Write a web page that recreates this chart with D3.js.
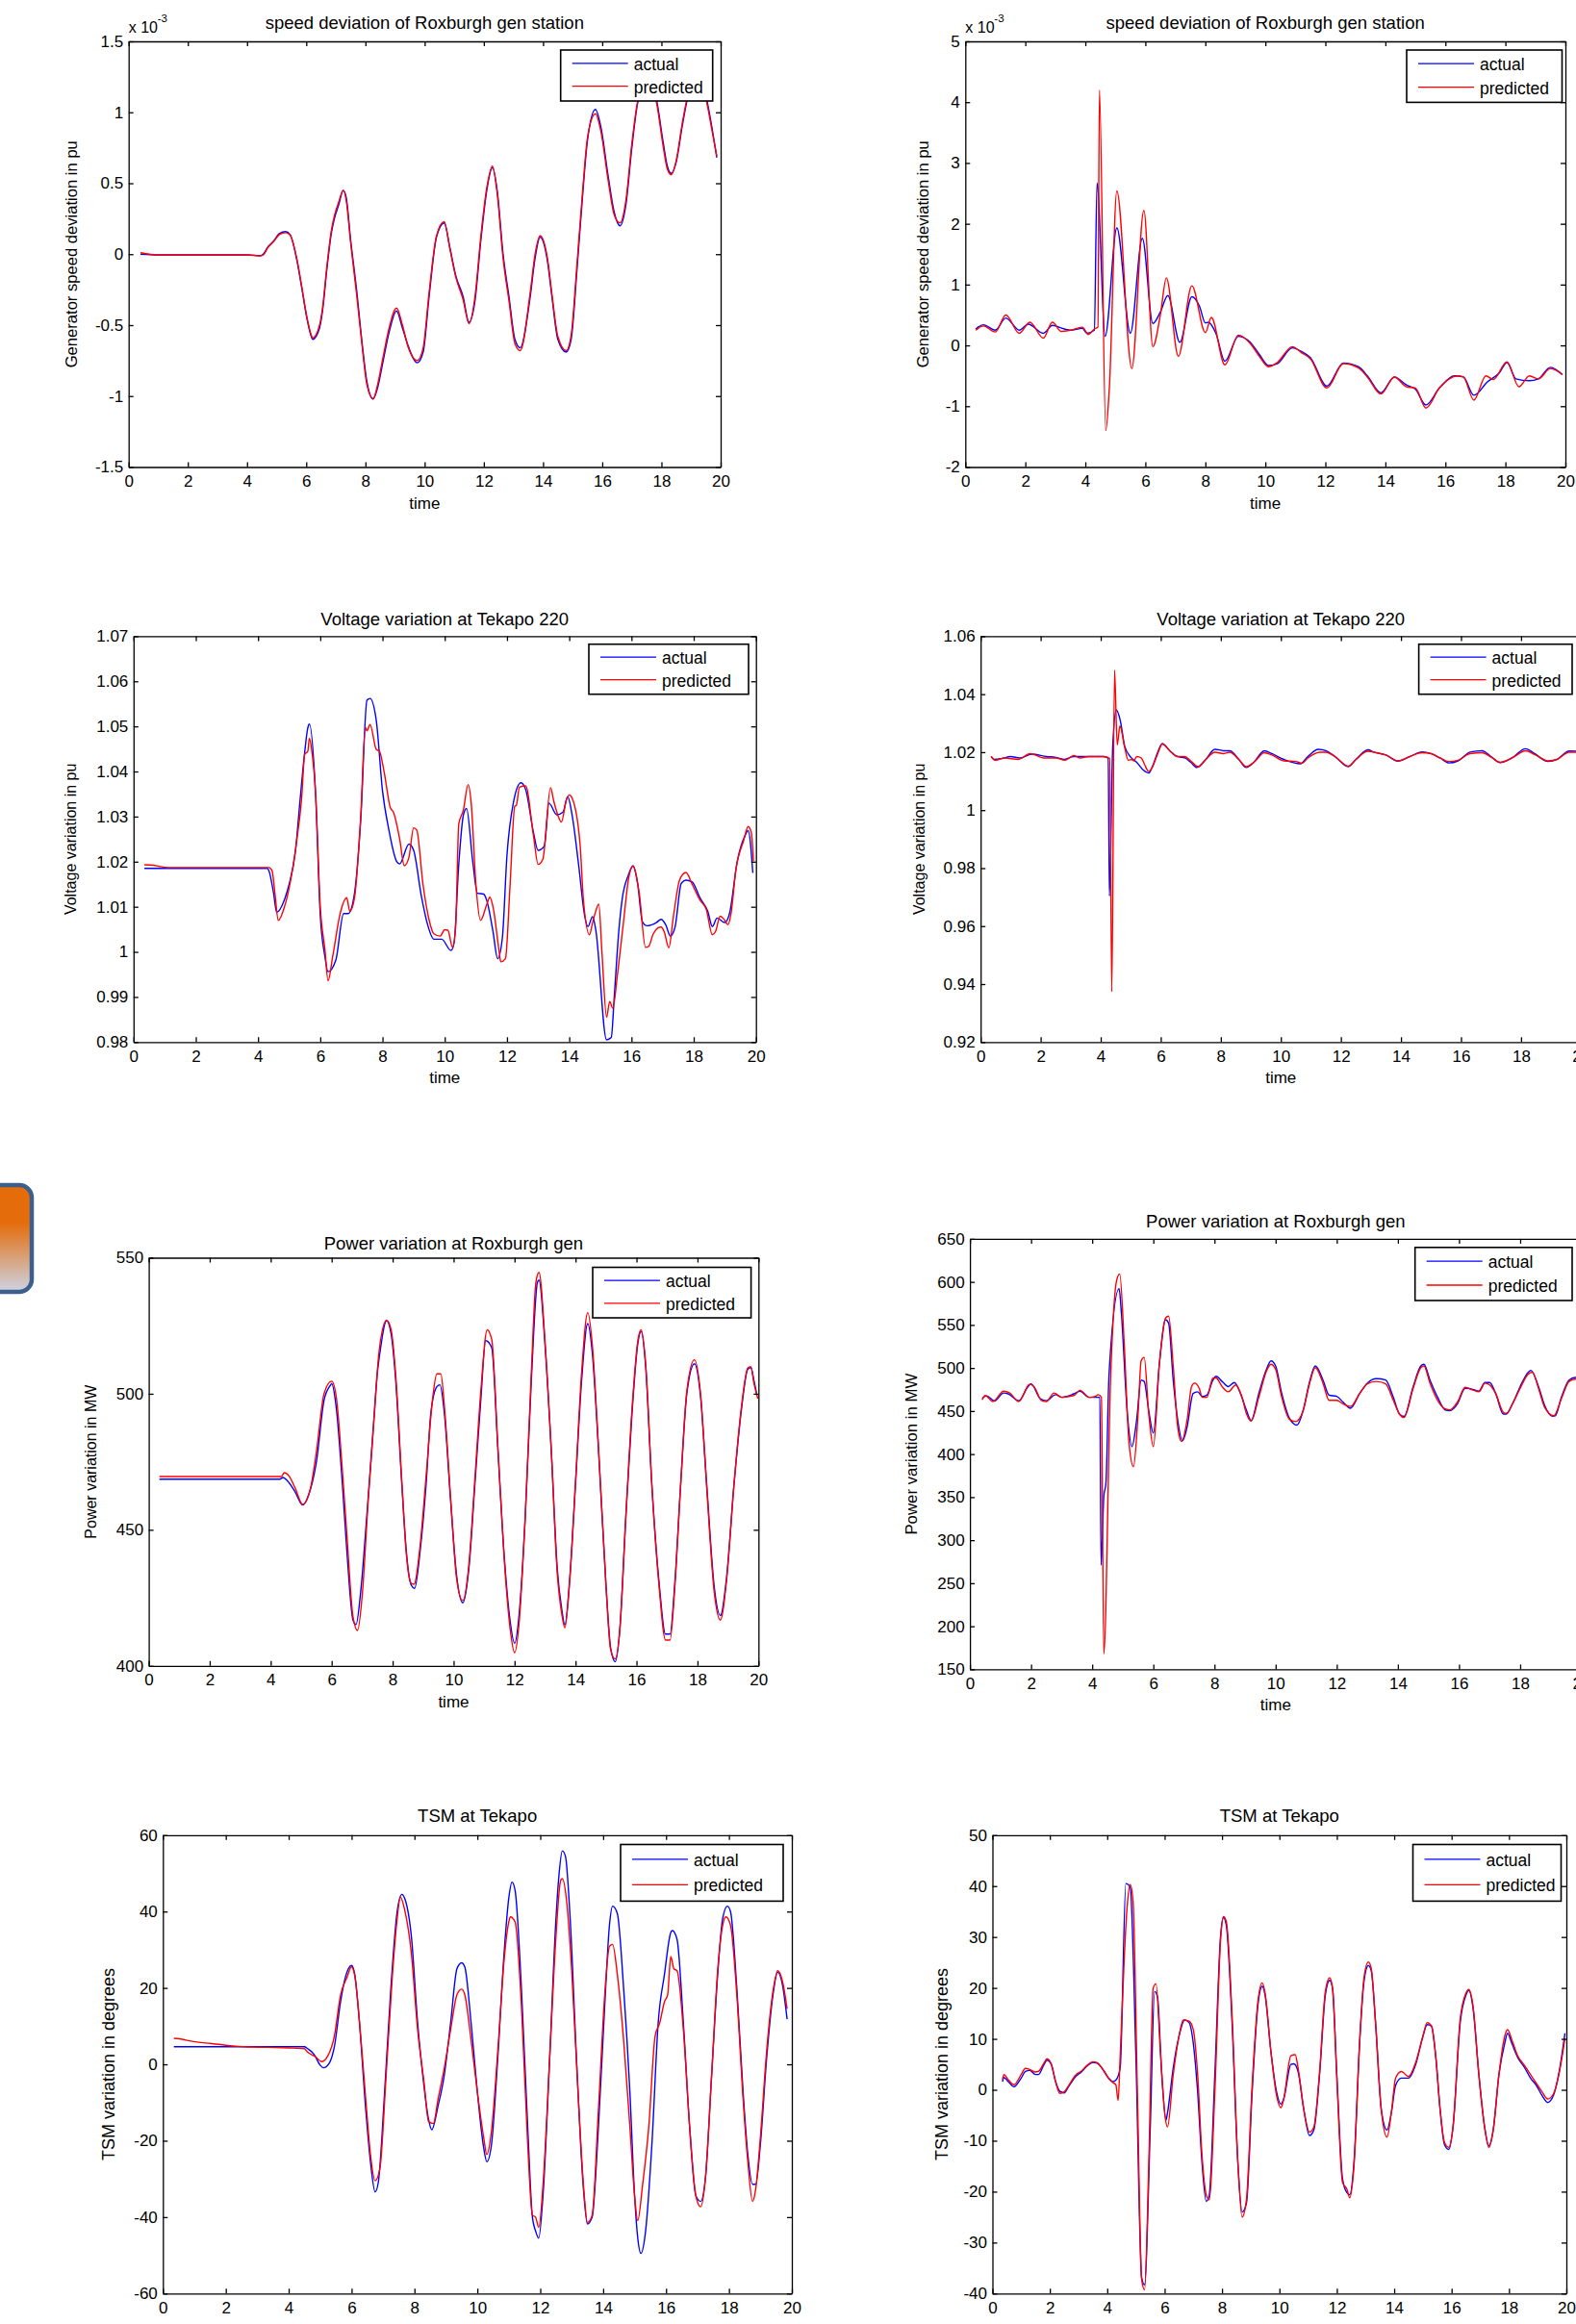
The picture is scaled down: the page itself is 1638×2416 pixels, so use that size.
<!DOCTYPE html>
<html>
<head>
<meta charset="utf-8">
<script src="https://cdn.jsdelivr.net/npm/d3@7"></script>
<style>
body{margin:0;background:#fff;}
svg{display:block;}
</style>
</head>
<body>
<div id="canvas"></div>
<script>
// tick values
var xTicks = [0,2,4,6,8,10,12,14,16,18,20];
var speedATicks = [-1.5,-1,-0.5,0,0.5,1,1.5];
var speedBTicks = [-2,-1,0,1,2,3,4,5];
var voltATicks = [0.98,0.99,1,1.01,1.02,1.03,1.04,1.05,1.06,1.07];
var voltBTicks = [0.92,0.94,0.96,0.98,1,1.02,1.04,1.06];
var powerATicks = [400,450,500,550];
var powerBTicks = [150,200,250,300,350,400,450,500,550,600,650];
var tsmATicks = [-60,-40,-20,0,20,40,60];
var tsmBTicks = [-40,-30,-20,-10,0,10,20,30,40,50];

var titles = ['speed deviation of Roxburgh gen station','speed deviation of Roxburgh gen station',
  'Voltage variation at Tekapo 220','Voltage variation at Tekapo 220',
  'Power variation at Roxburgh gen','Power variation at Roxburgh gen',
  'TSM at Tekapo','TSM at Tekapo'];
var ylabels = ['Generator speed deviation in pu','Generator speed deviation in pu',
  'Voltage variation in pu','Voltage variation in pu',
  'Power variation in MW','Power variation in MW',
  'TSM variation in degrees','TSM variation in degrees'];
var seriesNames = ['actual','predicted'];

// speed deviation (x 1e-3), case A
var speedA_time = [0.4,1,2,3,4,4.45,4.55,4.7,4.9,5.1,5.3,5.45,5.69,5.85,6.02,6.14,6.22,6.45,6.55,6.7,6.85,6.95,7.1,7.25,7.35,7.5,7.7,7.9,8.05,8.26,8.4,8.6,8.8,9.05,9.25,9.45,9.75,9.95,10.15,10.4,10.66,10.85,11.05,11.3,11.5,11.7,11.9,12.1,12.29,12.45,12.65,12.85,13.05,13.23,13.56,13.73,13.9,14.15,14.3,14.5,14.78,14.95,15.15,15.35,15.5,15.77,15.95,16.2,16.4,16.6,16.8,17.0,17.2,17.55,17.85,18.05,18.2,18.33,18.5,18.7,18.9,19.2,19.55,19.7,19.87];
var speedA_actual = [0,-0.005,-0.005,-0.005,-0.005,-0.01,0,0.05,0.093,0.147,0.159,0.14,-0.05,-0.24,-0.45,-0.56,-0.6,-0.52,-0.4,-0.1,0.15,0.25,0.35,0.45,0.4,0.1,-0.25,-0.65,-0.9,-1.02,-0.95,-0.75,-0.55,-0.4,-0.52,-0.65,-0.765,-0.69,-0.3,0.12,0.22,0.05,-0.15,-0.3,-0.48,-0.33,0.1,0.45,0.61,0.45,0,-0.3,-0.6,-0.66,-0.31,-0.03,0.12,-0.05,-0.3,-0.6,-0.69,-0.6,-0.1,0.45,0.8,1.02,0.9,0.55,0.3,0.2,0.35,0.75,1.07,1.25,1.07,0.8,0.62,0.57,0.65,0.9,1.12,1.3,1.07,0.9,0.68];
var speedA_pred = [0.01,-0.005,-0.005,-0.005,-0.005,-0.012,-0.005,0.045,0.09,0.14,0.152,0.135,-0.04,-0.23,-0.44,-0.55,-0.59,-0.5,-0.38,-0.08,0.17,0.27,0.37,0.45,0.38,0.08,-0.28,-0.67,-0.92,-1.02,-0.93,-0.72,-0.52,-0.38,-0.5,-0.66,-0.75,-0.66,-0.27,0.13,0.23,0.04,-0.16,-0.32,-0.49,-0.3,0.13,0.47,0.62,0.43,-0.03,-0.33,-0.63,-0.68,-0.28,0,0.13,-0.03,-0.28,-0.58,-0.68,-0.57,-0.06,0.48,0.82,0.99,0.87,0.52,0.28,0.22,0.38,0.78,1.08,1.24,1.05,0.77,0.6,0.56,0.66,0.92,1.13,1.29,1.05,0.88,0.69];

// speed deviation (x 1e-3), case B
var speedB_timeActual = [0.35,0.6,1.0,1.35,1.8,2.1,2.6,2.9,3.3,3.5,3.9,4.05,4.3,4.39,4.66,5.05,5.5,5.9,6.25,6.5,6.75,7.15,7.55,7.8,8.0,8.1,8.35,8.65,9.1,9.5,9.8,10.1,10.4,10.9,11.2,11.5,12.05,12.6,13.1,13.4,13.85,14.3,14.7,15.0,15.35,15.8,16.3,16.6,16.95,17.4,17.8,18.05,18.35,18.8,19.1,19.5,19.9];
var speedB_actual = [0.27,0.34,0.25,0.45,0.25,0.35,0.2,0.33,0.27,0.25,0.28,0.2,0.25,2.67,0.15,1.93,0.2,1.76,0.36,0.55,0.82,0.05,0.8,0.65,0.37,0.38,0.2,-0.26,0.15,0.05,-0.15,-0.33,-0.3,-0.04,-0.1,-0.2,-0.67,-0.29,-0.35,-0.5,-0.78,-0.52,-0.65,-0.72,-0.98,-0.7,-0.5,-0.52,-0.82,-0.6,-0.45,-0.28,-0.55,-0.58,-0.55,-0.36,-0.48];
var speedB_timePred = [0.35,0.6,1.0,1.35,1.8,2.15,2.6,2.9,3.2,3.5,3.9,4.1,4.3,4.42,4.47,4.68,4.8,5.05,5.55,5.95,6.25,6.5,6.7,7.1,7.55,8.0,8.2,8.65,9.1,9.5,9.8,10.1,10.4,10.9,11.2,11.5,12.05,12.6,13.1,13.4,13.85,14.3,14.7,15.0,15.35,15.8,16.4,16.6,16.95,17.35,17.6,18.05,18.45,18.8,19.1,19.5,19.9];
var speedB_pred = [0.25,0.32,0.22,0.5,0.2,0.38,0.12,0.38,0.23,0.25,0.3,0.18,0.27,0.3,4.2,-1.4,-0.7,2.54,-0.38,2.22,-0.02,0.5,1.11,-0.18,0.98,0.21,0.46,-0.32,0.17,0.03,-0.18,-0.35,-0.28,-0.02,-0.12,-0.22,-0.7,-0.3,-0.37,-0.52,-0.8,-0.52,-0.68,-0.7,-1.03,-0.7,-0.5,-0.52,-0.9,-0.5,-0.56,-0.27,-0.68,-0.5,-0.55,-0.38,-0.48];

// voltage at Tekapo 220 (pu), case A  [time, value]
var voltA_actual = [[0.35,1.0185],[4.3,1.0185],[4.35,1.018],[4.5,1.013],[4.6,1.0088],[4.85,1.0116],[5.0,1.015],[5.2,1.0222],[5.35,1.0336],[5.5,1.0443],[5.6,1.0497],[5.65,1.0505],[5.85,1.035],[6.0,1.0081],[6.15,0.9989],[6.25,0.9956],[6.5,0.9982],[6.75,1.0085],[6.9,1.0085],[7.1,1.013],[7.3,1.0293],[7.5,1.0558],[7.6,1.0562],[7.8,1.0513],[8.0,1.0357],[8.2,1.0272],[8.45,1.0201],[8.55,1.0195],[8.85,1.0239],[9.0,1.0225],[9.25,1.0123],[9.45,1.006],[9.65,1.0028],[9.9,1.0028],[10.2,1.0003],[10.3,1.002],[10.45,1.0194],[10.6,1.0304],[10.7,1.0318],[10.9,1.02],[11.05,1.013],[11.25,1.0128],[11.35,1.0114],[11.55,1.0045],[11.7,0.9985],[11.85,1.003],[12.0,1.0215],[12.2,1.0329],[12.45,1.0375],[12.6,1.036],[12.85,1.0265],[13.0,1.0225],[13.2,1.0235],[13.35,1.033],[13.6,1.0304],[13.8,1.031],[13.95,1.0344],[14.1,1.03],[14.3,1.0194],[14.5,1.0078],[14.6,1.0056],[14.75,1.0078],[14.85,1.005],[15.2,0.9805],[15.35,0.981],[15.45,0.9904],[15.6,1.0052],[15.7,1.0116],[15.9,1.017],[16.05,1.0191],[16.2,1.015],[16.35,1.0067],[16.5,1.0058],[16.8,1.0065],[16.95,1.0072],[17.1,1.006],[17.25,1.0035],[17.4,1.0055],[17.6,1.0152],[17.75,1.0159],[17.95,1.0155],[18.2,1.012],[18.45,1.009],[18.6,1.0056],[18.75,1.0075],[19.0,1.0065],[19.15,1.0085],[19.4,1.0201],[19.65,1.0258],[19.75,1.0269],[19.9,1.0175]];
var voltA_pred = [[0.35,1.0193],[0.65,1.0192],[0.8,1.019],[1.1,1.0187],[4.35,1.0187],[4.45,1.018],[4.55,1.0125],[4.65,1.007],[4.85,1.01],[5.05,1.016],[5.25,1.025],[5.4,1.034],[5.5,1.0438],[5.6,1.0445],[5.65,1.0474],[5.72,1.045],[5.85,1.035],[6.0,1.01],[6.15,1.0005],[6.25,0.9936],[6.4,0.999],[6.65,1.0088],[6.85,1.012],[6.95,1.009],[7.1,1.012],[7.3,1.03],[7.45,1.0498],[7.5,1.049],[7.6,1.0504],[7.8,1.0449],[7.9,1.0445],[8.05,1.04],[8.25,1.032],[8.35,1.031],[8.55,1.0251],[8.7,1.0191],[8.85,1.021],[9.0,1.0275],[9.1,1.027],[9.3,1.015],[9.5,1.007],[9.65,1.004],[9.85,1.0035],[10.0,1.0049],[10.1,1.0048],[10.25,1.001],[10.35,1.0055],[10.45,1.0283],[10.6,1.0315],[10.75,1.0371],[10.85,1.033],[11.0,1.015],[11.15,1.007],[11.35,1.0105],[11.45,1.0121],[11.55,1.01],[11.75,1.0],[11.8,0.9978],[11.95,0.9985],[12.1,1.015],[12.25,1.0323],[12.3,1.0325],[12.4,1.0365],[12.6,1.0368],[12.85,1.0258],[13.0,1.0194],[13.15,1.0205],[13.4,1.0364],[13.5,1.0335],[13.65,1.03],[13.75,1.0288],[13.9,1.0335],[14.0,1.0348],[14.1,1.034],[14.35,1.0237],[14.45,1.012],[14.65,1.0038],[14.75,1.0065],[14.85,1.009],[14.95,1.0106],[15.05,1.0],[15.2,0.9855],[15.3,0.989],[15.4,0.9875],[15.55,0.995],[15.75,1.007],[15.9,1.016],[16.05,1.019],[16.25,1.013],[16.45,1.001],[16.55,1.0012],[16.7,1.004],[16.85,1.0053],[16.95,1.0055],[17.05,1.0045],[17.2,1.0009],[17.35,1.008],[17.55,1.016],[17.75,1.0176],[17.95,1.015],[18.2,1.0115],[18.4,1.0095],[18.6,1.0038],[18.7,1.0045],[18.85,1.0079],[19.0,1.007],[19.1,1.006],[19.2,1.0085],[19.35,1.018],[19.6,1.0246],[19.75,1.0278],[19.85,1.0265],[19.92,1.0201]];

// voltage at Tekapo 220 (pu), case B
var voltB_actual = [[0.35,1.0185],[0.45,1.0175],[0.7,1.0178],[1.0,1.0185],[1.3,1.018],[1.7,1.0193],[2.2,1.0185],[2.5,1.0182],[2.8,1.0175],[3.1,1.0185],[4.1,1.0185],[4.25,1.0179],[4.29,0.9704],[4.4,1.022],[4.52,1.0346],[4.65,1.031],[4.8,1.022],[5.0,1.0183],[5.2,1.0165],[5.4,1.014],[5.6,1.0128],[5.7,1.0145],[5.9,1.02],[6.05,1.023],[6.3,1.0205],[6.55,1.0185],[6.8,1.018],[7.0,1.0165],[7.2,1.0147],[7.5,1.0175],[7.8,1.021],[8.1,1.0205],[8.3,1.0205],[8.6,1.0175],[8.85,1.0147],[9.1,1.0165],[9.45,1.0205],[9.7,1.0195],[10.1,1.0175],[10.65,1.016],[10.9,1.0185],[11.25,1.021],[11.5,1.0205],[11.8,1.0185],[12.25,1.015],[12.5,1.0175],[12.9,1.0208],[13.1,1.02],[13.5,1.019],[13.9,1.0169],[14.3,1.0185],[14.7,1.0201],[15.0,1.0195],[15.3,1.018],[15.6,1.0163],[15.9,1.017],[16.3,1.02],[16.7,1.0205],[17.0,1.0185],[17.3,1.0164],[17.7,1.018],[18.15,1.0212],[18.45,1.0195],[18.9,1.0168],[19.2,1.0175],[19.6,1.0204],[20,1.0203]];
var voltB_pred = [[0.35,1.0185],[0.5,1.0172],[0.8,1.018],[1.25,1.0175],[1.65,1.0195],[2.1,1.018],[2.5,1.018],[2.8,1.0172],[3.1,1.0188],[3.3,1.018],[3.6,1.0185],[4.1,1.0185],[4.3,1.0178],[4.37,0.9374],[4.46,1.0483],[4.55,1.0225],[4.64,1.029],[4.8,1.0215],[4.92,1.0172],[5.05,1.0175],[5.1,1.017],[5.2,1.0185],[5.35,1.018],[5.45,1.016],[5.6,1.0133],[5.7,1.0145],[5.9,1.0195],[6.05,1.0228],[6.3,1.0205],[6.55,1.0185],[6.8,1.0185],[7.0,1.017],[7.25,1.015],[7.5,1.0175],[7.8,1.02],[8.1,1.0195],[8.3,1.02],[8.6,1.0175],[8.85,1.015],[9.1,1.0165],[9.45,1.0198],[9.7,1.019],[10.1,1.017],[10.5,1.0168],[10.7,1.0162],[10.9,1.018],[11.3,1.02],[11.5,1.02],[11.8,1.0185],[12.25,1.0152],[12.5,1.0175],[12.9,1.0203],[13.1,1.02],[13.5,1.019],[13.9,1.017],[14.3,1.0185],[14.7,1.0198],[15.0,1.0195],[15.3,1.018],[15.6,1.0168],[15.9,1.0172],[16.3,1.0195],[16.7,1.0198],[17.0,1.0183],[17.3,1.0165],[17.7,1.018],[18.15,1.0205],[18.45,1.0192],[18.9,1.017],[19.2,1.0175],[19.6,1.02],[20,1.02]];

// power at Roxburgh gen (MW), case A
var powerA_actual = [[0.35,468.6],[4.3,468.6],[4.4,469.2],[4.6,467.3],[4.8,464],[5.05,459.1],[5.25,463],[5.5,475],[5.75,497.6],[5.95,503],[6.0,503.7],[6.15,495],[6.35,467],[6.5,442],[6.7,416.8],[6.8,415.2],[6.95,427],[7.15,454.7],[7.35,485],[7.5,507.7],[7.6,516.5],[7.8,526.8],[7.95,522],[8.1,505],[8.3,467],[8.45,442],[8.6,430],[8.72,428.5],[8.9,442],[9.1,467],[9.25,492.5],[9.45,502.6],[9.55,503.3],[9.7,492.5],[9.9,461],[10.1,433],[10.3,423.2],[10.5,435.7],[10.7,467],[10.9,499],[11.05,519.5],[11.25,517],[11.45,480],[11.65,442],[11.85,416.8],[12.0,408.3],[12.15,419],[12.35,454.7],[12.55,505],[12.75,541],[12.8,541.8],[13.0,517.8],[13.2,480],[13.4,435.7],[13.55,420.6],[13.65,415],[13.8,430.7],[14.0,467],[14.2,505],[14.4,525.8],[14.55,515],[14.75,480],[15.0,429.4],[15.15,406.7],[15.3,401.5],[15.45,413],[15.65,454.7],[15.85,492.5],[16.05,519],[16.15,522.9],[16.3,510],[16.5,467],[16.75,429.4],[16.95,411.7],[17.1,411.7],[17.25,429.4],[17.45,467],[17.65,500],[17.9,511],[18.1,499],[18.3,467],[18.55,429],[18.75,418.5],[18.95,432],[19.2,467],[19.45,495],[19.65,509],[19.75,509.6],[19.85,505],[19.95,499.5]];
var powerA_pred = [[0.35,469.6],[4.35,469.6],[4.45,471],[4.6,469.8],[4.8,465.4],[5.05,459.3],[5.3,465],[5.5,478.7],[5.75,500],[6.0,504.6],[6.15,498.9],[6.35,472],[6.5,448],[6.7,418],[6.85,413],[7.0,425.6],[7.2,461],[7.4,492.5],[7.55,515],[7.8,527],[7.95,523.5],[8.1,507],[8.3,468],[8.45,441],[8.6,430.5],[8.7,430],[8.9,444],[9.1,470],[9.3,497],[9.45,507.3],[9.58,507.3],[9.7,495],[9.9,462],[10.1,432],[10.3,424],[10.5,437],[10.7,469],[10.9,502],[11.1,523.5],[11.25,520],[11.45,481],[11.65,441],[11.85,414],[12.0,404.8],[12.15,416],[12.35,455],[12.55,508],[12.7,541],[12.8,544.6],[13.0,519],[13.2,480],[13.4,434],[13.55,419],[13.65,414],[13.8,430],[14.0,468],[14.2,508],[14.4,529.8],[14.55,518],[14.75,481],[15.0,429],[15.15,406],[15.3,402.5],[15.45,413],[15.65,455],[15.85,494],[16.05,520],[16.15,523.5],[16.3,511],[16.5,467],[16.75,428],[16.95,409.5],[17.1,409.5],[17.25,428],[17.45,467],[17.65,501],[17.9,512.5],[18.1,500],[18.3,466],[18.55,427],[18.75,416.8],[18.95,431],[19.2,467],[19.45,496],[19.65,509.5],[19.75,510],[19.85,504],[19.98,498.2]];

// power at Roxburgh gen (MW), case B
var powerB_actual = [[0.4,465],[0.55,467.6],[0.8,461.6],[1.1,471],[1.25,470],[1.6,462],[1.9,478.4],[2.0,481.6],[2.3,464.4],[2.5,462],[2.8,469],[3.0,466],[3.4,470],[3.6,473],[3.9,466],[4.25,466],[4.29,271],[4.38,350.7],[4.45,366.7],[4.55,492.4],[4.88,592],[4.95,566],[5.15,446.5],[5.3,408.6],[5.45,438.5],[5.6,486],[5.7,484.4],[5.85,450],[6.0,424.5],[6.2,506],[6.4,556],[6.5,552],[6.65,486],[6.8,438.5],[6.95,415.4],[7.1,430.7],[7.3,470.4],[7.45,472.4],[7.6,467],[7.75,468.4],[7.95,486],[8.05,490.4],[8.25,484.4],[8.45,478.4],[8.65,483.2],[8.85,470.4],[9.05,450.5],[9.2,439],[9.45,470.4],[9.7,498.4],[9.85,508.3],[10.0,502.4],[10.2,470.4],[10.45,441.7],[10.7,433.7],[10.9,450.5],[11.1,482.4],[11.3,502.4],[11.55,486],[11.75,468.4],[12.0,467],[12.2,460.5],[12.45,453.3],[12.75,470.4],[13.0,482.4],[13.3,487.6],[13.6,486],[13.85,466],[14.05,446.5],[14.2,443.7],[14.5,478.4],[14.75,502.4],[14.85,504.3],[15.05,486],[15.3,466],[15.55,451.3],[15.7,450.5],[15.95,458.5],[16.2,476.4],[16.45,475.2],[16.65,473.2],[16.85,483.2],[17.0,483.2],[17.2,470.4],[17.45,446.5],[17.55,446.5],[17.75,458.5],[18.0,478.4],[18.25,494.4],[18.35,497.2],[18.6,478.4],[18.8,456.5],[19.05,444],[19.15,444.5],[19.35,466],[19.6,486],[19.8,489],[20,487]];
var powerB_pred = [[0.4,463],[0.5,468],[0.75,461],[1.1,473],[1.3,471],[1.6,461],[1.95,481],[2.1,478],[2.35,462],[2.5,461],[2.75,471],[3.0,466],[3.4,468],[3.6,474],[3.9,466],[4.1,467],[4.2,469],[4.3,466],[4.38,167.9],[4.6,486],[4.8,602],[4.9,609.3],[5.05,526],[5.2,414.6],[5.35,385.4],[5.5,446.5],[5.6,508.3],[5.7,512.3],[5.85,446.5],[6.0,408.6],[6.2,506],[6.4,558],[6.5,560.2],[6.65,502.4],[6.8,430.5],[6.92,414.6],[7.1,438.5],[7.25,478.4],[7.35,482.4],[7.5,476.4],[7.6,466],[7.75,466],[7.95,488.4],[8.05,488.4],[8.25,478.4],[8.45,472.4],[8.7,480.4],[8.9,466],[9.05,446.5],[9.2,438.5],[9.45,466],[9.7,496.4],[9.85,504.3],[10.0,498.4],[10.2,466],[10.45,440.5],[10.65,437.7],[10.9,450.5],[11.1,480.4],[11.3,500.4],[11.55,482.4],[11.75,462.4],[12.0,462.4],[12.2,458.5],[12.45,455.3],[12.75,470.4],[13.0,481.6],[13.3,484.4],[13.6,481.6],[13.85,462.4],[14.05,446.5],[14.2,442.5],[14.5,476.4],[14.75,500.4],[14.85,502.4],[15.05,482.4],[15.3,462.4],[15.55,452.5],[15.7,451.3],[15.95,460.5],[16.2,477.6],[16.45,474.4],[16.65,472.4],[16.85,482.4],[17.0,480.4],[17.2,470.4],[17.45,448.5],[17.55,447.3],[17.75,458.5],[18.0,476.4],[18.25,492.4],[18.4,495.2],[18.6,476.4],[18.8,454.5],[19.1,444.5],[19.35,464.4],[19.6,484.4],[19.8,487],[20,485]];

// TSM at Tekapo (degrees), case A
var tsmA_actual = [[0.35,4.6],[4.5,4.6],[4.6,4.1],[4.8,2.7],[5.0,-0.2],[5.1,-0.9],[5.3,0.45],[5.45,4.5],[5.65,16.4],[5.8,22.7],[6.0,25.9],[6.1,23.6],[6.25,10.9],[6.45,-11.8],[6.6,-25.5],[6.75,-33.4],[6.85,-30.9],[7.05,-7.3],[7.25,20],[7.45,40],[7.6,44.5],[7.7,43.2],[7.9,33.6],[8.1,10.9],[8.3,-5.5],[8.45,-14.5],[8.55,-17.1],[8.75,-10.9],[8.95,-2.7],[9.15,10.9],[9.35,25],[9.5,26.6],[9.6,25.5],[9.8,10.9],[10.0,-7.3],[10.2,-21.8],[10.3,-25.5],[10.45,-20.9],[10.65,1.8],[10.85,29.1],[11.0,43.6],[11.1,47.7],[11.2,45.5],[11.4,20],[11.6,-16.4],[11.75,-40],[11.85,-43.6],[11.95,-45.5],[12.1,-32.7],[12.3,1.8],[12.5,38.2],[12.6,50],[12.7,55.9],[12.8,54.5],[12.95,38.2],[13.15,1.8],[13.35,-30],[13.5,-41.8],[13.65,-40],[13.85,-16.4],[14.05,15.5],[14.2,36.4],[14.3,41.4],[14.45,39.5],[14.65,20],[14.85,-7.3],[15.0,-34.5],[15.1,-45.5],[15.2,-49.5],[15.35,-43.6],[15.55,-20.9],[15.75,10.9],[15.95,23.6],[16.15,34.5],[16.2,35],[16.35,32.7],[16.55,10.9],[16.75,-16.4],[16.95,-34.5],[17.1,-35.9],[17.25,-30],[17.45,-2.7],[17.65,24.5],[17.8,38.2],[17.95,41.4],[18.05,40],[18.25,20],[18.45,-7.3],[18.6,-23.6],[18.75,-31.4],[18.85,-31.4],[19.0,-20.9],[19.2,1.8],[19.4,18.2],[19.55,24.1],[19.7,20.9],[19.85,11.8]];
var tsmA_pred = [[0.35,6.8],[0.65,6.5],[0.8,6.2],[1.2,5.7],[1.5,5.5],[2.0,5.0],[2.4,4.7],[3.0,4.5],[3.6,4.4],[4.0,4.3],[4.5,4.1],[4.6,3.2],[4.85,2.0],[5.05,0.7],[5.25,2.3],[5.45,7.3],[5.65,18.2],[5.85,22.7],[6.0,25.5],[6.1,23.2],[6.3,6.4],[6.45,-9.1],[6.6,-23.6],[6.75,-30.5],[6.9,-27.3],[7.1,-2.7],[7.3,23.6],[7.45,38.2],[7.55,43.8],[7.7,40],[7.9,29.1],[8.1,9.1],[8.3,-4.5],[8.45,-15],[8.6,-15.5],[8.75,-9.1],[8.95,-0.9],[9.15,9.1],[9.35,18.2],[9.5,19.7],[9.6,18.2],[9.8,6.4],[10.0,-7.3],[10.2,-19.1],[10.3,-23.6],[10.45,-17.3],[10.65,3.6],[10.85,27.3],[11.0,37.3],[11.05,38.6],[11.2,37.3],[11.4,15.5],[11.6,-20.9],[11.75,-39.5],[11.85,-40],[11.95,-42.7],[12.1,-30],[12.3,1.8],[12.5,33.6],[12.65,48.2],[12.7,48.6],[12.85,41.8],[13.0,24.5],[13.2,-7.3],[13.4,-34.5],[13.5,-41.4],[13.65,-39.5],[13.85,-11.8],[14.05,18.2],[14.2,30.9],[14.3,31.4],[14.45,23.6],[14.65,6.4],[14.85,-16.4],[15.0,-34.5],[15.1,-40.9],[15.25,-31.8],[15.45,-16.4],[15.65,7.3],[15.8,10.9],[15.95,16.4],[16.05,18.2],[16.15,28.2],[16.25,25],[16.35,24.5],[16.55,9.1],[16.75,-16.4],[16.95,-34.5],[17.1,-37.3],[17.25,-30],[17.45,-2.7],[17.65,25.5],[17.8,36.4],[17.9,38.6],[18.05,36.4],[18.25,18.2],[18.45,-9.1],[18.6,-25.5],[18.75,-35.9],[18.85,-32.7],[19.0,-19.1],[19.2,3.6],[19.4,19.1],[19.55,24.5],[19.7,21.8],[19.85,14.5]];

// TSM at Tekapo (degrees), case B
var tsmB_actual = [[0.35,1.6],[0.4,2.4],[0.55,1.6],[0.75,0.6],[1.0,2.3],[1.15,3.6],[1.3,3.8],[1.5,3.0],[1.6,3.0],[1.8,5.0],[1.9,5.8],[2.05,5.0],[2.2,1.6],[2.35,-0.3],[2.5,-0.6],[2.65,0.6],[2.9,2.6],[3.1,3.5],[3.3,4.7],[3.5,5.4],[3.65,5.2],[3.9,3.6],[4.05,2.3],[4.2,1.6],[4.3,1.9],[4.45,4.3],[4.65,40.5],[4.8,39.8],[5.0,6.4],[5.2,-36.9],[5.3,-38.3],[5.5,-7.3],[5.65,19.3],[5.75,18.3],[5.9,3.0],[6.05,-5.9],[6.1,-4.5],[6.3,4.3],[6.5,10.5],[6.7,13.7],[6.85,13.2],[7.0,9.1],[7.15,-0.4],[7.3,-14.1],[7.45,-21.9],[7.55,-20.9],[7.75,3.0],[7.95,30.2],[8.05,33.8],[8.15,32.3],[8.35,13.2],[8.55,-14.1],[8.7,-24],[8.85,-22.3],[9.05,-0.4],[9.25,16.6],[9.4,20.3],[9.5,18.6],[9.7,7.7],[9.9,-0.4],[10.05,-2.8],[10.15,-1.8],[10.4,5.0],[10.5,5.1],[10.65,3.6],[10.85,-3.9],[11.05,-9],[11.2,-7.9],[11.4,3.0],[11.6,18.6],[11.75,21.5],[11.85,20],[12.0,3.0],[12.2,-17.5],[12.35,-20.2],[12.45,-20.6],[12.6,-14.1],[12.8,9.8],[12.95,21.4],[13.1,24.4],[13.2,23.4],[13.35,13.2],[13.55,-3.9],[13.75,-7.9],[13.9,-4.5],[14.05,0.9],[14.25,2.3],[14.5,2.3],[14.75,5.0],[15.0,10.5],[15.15,12.8],[15.3,12.5],[15.45,6.4],[15.6,-3.9],[15.75,-10.7],[15.9,-11.7],[16.05,-7.3],[16.3,13.2],[16.5,18.6],[16.6,19.5],[16.75,15.9],[16.95,3.0],[17.15,-7.3],[17.3,-11],[17.45,-7.9],[17.65,3.0],[17.85,9.1],[17.95,11.1],[18.1,9.1],[18.3,6.4],[18.55,4.3],[18.75,2.3],[18.95,0.9],[19.15,-1.1],[19.35,-2.5],[19.55,-1.1],[19.75,3.6],[19.95,11.1]];
var tsmB_pred = [[0.35,2.0],[0.4,3.0],[0.55,2.0],[0.75,1.0],[1.0,3.0],[1.15,4.2],[1.3,4.0],[1.5,3.5],[1.6,3.6],[1.8,5.3],[1.9,6.1],[2.05,5.0],[2.2,1.6],[2.35,-0.7],[2.5,-0.4],[2.65,0.8],[2.9,2.9],[3.1,3.7],[3.3,4.8],[3.5,5.5],[3.65,5.3],[3.9,3.5],[4.05,2.2],[4.2,1.4],[4.3,1.0],[4.38,-2.1],[4.45,6.4],[4.6,26.8],[4.7,36.4],[4.8,40.3],[4.9,37],[5.05,-0.4],[5.2,-37.3],[5.3,-39.3],[5.45,-14.1],[5.6,20],[5.7,20.8],[5.85,7.7],[6.0,-4.5],[6.1,-7.3],[6.3,3.0],[6.5,10.5],[6.65,13.7],[6.85,13.5],[7.0,11.8],[7.15,3.0],[7.3,-12.7],[7.45,-20.6],[7.55,-21.6],[7.75,-0.4],[7.95,29.5],[8.05,34],[8.15,33],[8.35,14.6],[8.55,-14.1],[8.7,-25],[8.85,-21.6],[9.05,0.9],[9.25,17.3],[9.4,21],[9.5,19],[9.7,7.7],[9.9,-1.1],[10.05,-3.5],[10.15,-1.8],[10.4,6.7],[10.55,6.9],[10.65,4.3],[10.85,-3.9],[11.05,-8.3],[11.2,-7.3],[11.4,3.6],[11.6,19.3],[11.75,22],[11.85,20],[12.0,2.3],[12.2,-18.2],[12.35,-19.5],[12.45,-21.2],[12.6,-14.8],[12.8,9.8],[12.95,22.1],[13.1,25.1],[13.2,23.8],[13.35,13.2],[13.55,-3.9],[13.75,-9.3],[13.9,-4.5],[14.05,2.3],[14.25,3.6],[14.5,2.6],[14.75,5.4],[15.0,10.5],[15.15,13.2],[15.3,12.5],[15.45,6.4],[15.6,-3.9],[15.75,-10.3],[15.9,-11.3],[16.05,-7.3],[16.3,13.9],[16.5,19],[16.6,19.7],[16.75,16.3],[16.95,3.0],[17.15,-7.3],[17.3,-11.3],[17.45,-7.9],[17.65,3.0],[17.85,10.5],[17.95,11.8],[18.1,9.8],[18.3,6.7],[18.55,4.7],[18.75,3.0],[18.95,1.3],[19.15,-0.4],[19.35,-1.8],[19.55,-0.8],[19.75,3.3],[19.95,10.1]];

var FONT = '"Liberation Sans", Arial, Helvetica, sans-serif';
var W = 1638, H = 2416;

// panel layout (page pixels)
var panels = [
  {x0:133.7,x1:749,y0:43,y1:485.5,yDomain:[-1.5,1.5],yTicks:speedATicks,actual:d3.zip(speedA_time,speedA_actual),predicted:d3.zip(speedA_time,speedA_pred),titleY:29.5,ylabelX:74,ylabelSize:16.6,legend:[582.7,52,158,53],exponent:true,timeLabel:true},
  {x0:1003.3,x1:1627,y0:43,y1:485.5,yDomain:[-2,5],yTicks:speedBTicks,actual:d3.zip(speedB_timeActual,speedB_actual),predicted:d3.zip(speedB_timePred,speedB_pred),titleY:29.5,ylabelX:959.8,ylabelSize:16.6,legend:[1462,52,161.5,54.4],exponent:true,timeLabel:true},
  {x0:138.8,x1:785.7,y0:661.4,y1:1083.3,yDomain:[0.98,1.07],yTicks:voltATicks,actual:voltA_actual,predicted:voltA_pred,titleY:649.8,ylabelX:73,ylabelSize:16,legend:[612,669.7,166,52],timeLabel:true},
  {x0:1019.2,x1:1643.3,y0:661.4,y1:1083.3,yDomain:[0.92,1.06],yTicks:voltBTicks,actual:voltB_actual,predicted:voltB_pred,titleY:649.8,ylabelX:955,ylabelSize:16,legend:[1474.6,669.7,159.4,52],timeLabel:true},
  {x0:154.6,x1:788.3,y0:1307.5,y1:1731.8,yDomain:[400,550],yTicks:powerATicks,actual:powerA_actual,predicted:powerA_pred,titleY:1298.6,ylabelX:94.4,ylabelSize:16,legend:[616,1317.5,164.6,52.5],timeLabel:true},
  {x0:1008.1,x1:1643.5,y0:1287.9,y1:1735.4,yDomain:[150,650],yTicks:powerBTicks,actual:powerB_actual,predicted:powerB_pred,titleY:1276.4,ylabelX:947.7,ylabelSize:16.8,legend:[1470.7,1296.8,163.3,55.2],timeLabel:true},
  {x0:169.3,x1:823,y0:1907.8,y1:2384.3,yDomain:[-60,60],yTicks:tsmATicks,actual:tsmA_actual,predicted:tsmA_pred,titleY:1894,ylabelX:112.5,ylabelSize:18,legend:[645,1917.5,169,58.9],timeLabel:false},
  {x0:1031.5,x1:1628,y0:1907.8,y1:2384.3,yDomain:[-40,50],yTicks:tsmBTicks,actual:tsmB_actual,predicted:tsmB_pred,titleY:1894,ylabelX:979.1,ylabelSize:18,legend:[1468.5,1917.5,154,58.9],timeLabel:false}
];

var svg = d3.select('#canvas')
    .append('svg')
    .attr('width',W)
    .attr('height',H)
    .style('font-family',FONT);

svg.append('rect').attr('width',W).attr('height',H).attr('fill','#fff');

// orange tab at the left edge
var grad = svg.append('defs').append('linearGradient')
    .attr('id','tabGrad').attr('x1',0).attr('x2',0).attr('y1',0).attr('y2',1);
grad.append('stop').attr('offset','0%').attr('stop-color','#e46c0a');
grad.append('stop').attr('offset','35%').attr('stop-color','#e46c0a');
grad.append('stop').attr('offset','100%').attr('stop-color','#cdd4e4');
svg.append('rect')
    .attr('x',-14).attr('y',1232)
    .attr('width',47).attr('height',111)
    .attr('rx',13).attr('ry',13)
    .attr('fill','url(#tabGrad)')
    .attr('stroke','#3c5f8b')
    .attr('stroke-width',4.5);

function fmt(d){ return String(+d.toFixed(3)); }

function styleAxis(ax){
  ax.attr('font-size',17).attr('font-family',FONT);
  ax.select('.domain').attr('stroke','#000').attr('stroke-width',1.3);
  ax.selectAll('.tick line').attr('stroke','#000').attr('stroke-width',1.3);
  ax.selectAll('.tick text').attr('fill','#000');
}

panels.forEach(function(p,i){
  var x = d3.scaleLinear().domain([0,20]).range([p.x0,p.x1]);
  var y = d3.scaleLinear().domain(p.yDomain).range([p.y1,p.y0]);
  var g = svg.append('g');

  var line = d3.line()
      .x(function(d){ return x(d[0]); })
      .y(function(d){ return y(d[1]); })
      .curve(d3.curveMonotoneX);

  g.append('path').attr('d',line(p.actual))
      .attr('fill','none').attr('stroke','#0000ff').attr('stroke-width',1.4);
  g.append('path').attr('d',line(p.predicted))
      .attr('fill','none').attr('stroke','#ff0000').attr('stroke-width',1.4);

  // axes, ticks pointing inwards on all four sides
  var bottom = g.append('g').attr('transform','translate(0,'+p.y1+')')
      .call(d3.axisBottom(x).tickValues(xTicks).tickSizeInner(-5).tickSizeOuter(0).tickPadding(8.5).tickFormat(fmt));
  styleAxis(bottom);
  var top = g.append('g').attr('transform','translate(0,'+p.y0+')')
      .call(d3.axisTop(x).tickValues(xTicks).tickSizeInner(-5).tickSizeOuter(0).tickFormat(function(){ return ''; }));
  styleAxis(top);
  var left = g.append('g').attr('transform','translate('+p.x0+',0)')
      .call(d3.axisLeft(y).tickValues(p.yTicks).tickSizeInner(-5).tickSizeOuter(0).tickPadding(5.5).tickFormat(fmt));
  styleAxis(left);
  var right = g.append('g').attr('transform','translate('+p.x1+',0)')
      .call(d3.axisRight(y).tickValues(p.yTicks).tickSizeInner(-5).tickSizeOuter(0).tickFormat(function(){ return ''; }));
  styleAxis(right);

  // title
  g.append('text')
      .attr('x',(p.x0+p.x1)/2).attr('y',p.titleY)
      .attr('text-anchor','middle')
      .attr('font-size',18.5)
      .text(titles[i]);

  // y label
  g.append('text')
      .attr('transform','translate('+p.ylabelX+','+((p.y0+p.y1)/2)+') rotate(-90)')
      .attr('text-anchor','middle')
      .attr('dominant-baseline','central')
      .attr('font-size',p.ylabelSize)
      .text(ylabels[i]);

  // x label
  if(p.timeLabel){
    g.append('text')
        .attr('x',(p.x0+p.x1)/2).attr('y',p.y1+43)
        .attr('text-anchor','middle')
        .attr('font-size',17)
        .text('time');
  }

  // exponent marker
  if(p.exponent){
    g.append('text').attr('x',p.x0).attr('y',p.y0-8.6).attr('font-size',16).text('x 10');
    g.append('text').attr('x',p.x0+30).attr('y',p.y0-20.3).attr('font-size',11.5).text('-3');
  }

  // legend
  var L = p.legend;
  var lg = g.append('g').attr('transform','translate('+L[0]+','+L[1]+')');
  lg.append('rect').attr('width',L[2]).attr('height',L[3])
      .attr('fill','#fff').attr('stroke','#000').attr('stroke-width',1.6);
  var rows = [L[3]*0.26, L[3]*0.71];
  var colors = ['#0000ff','#ff0000'];
  seriesNames.forEach(function(name,k){
    lg.append('line').attr('x1',12).attr('x2',70).attr('y1',rows[k]).attr('y2',rows[k])
        .attr('stroke',colors[k]).attr('stroke-width',1.3);
    lg.append('text').attr('x',76).attr('y',rows[k]+7)
        .attr('font-size',17.5).text(name);
  });
});
</script>
</body>
</html>
